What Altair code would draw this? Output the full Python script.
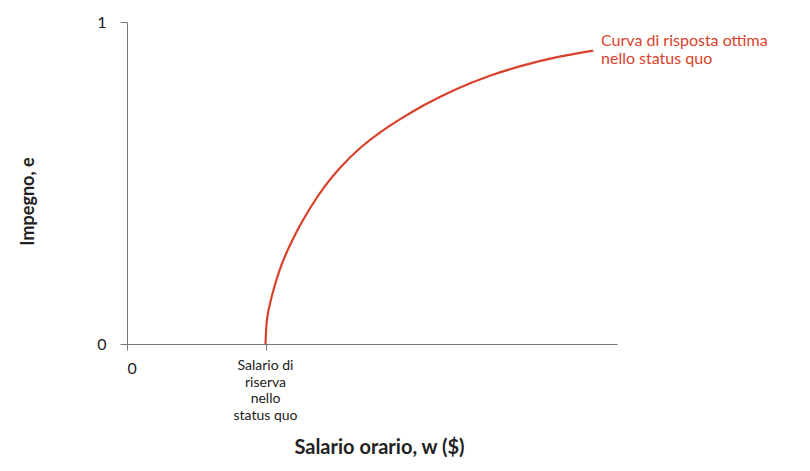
import altair as alt
import pandas as pd

# Best-response curve (hourly wage w, effort e)
wage = [13.85, 13.95, 14.37, 15.2, 16.2, 17.2, 18.37, 19.7, 21.37, 23.37, 25.37,
        26.87, 29.63, 32.97, 36.3, 39.63, 42.97, 46.63]
effort = [0.0, 0.080, 0.137, 0.230, 0.302, 0.364, 0.426, 0.489, 0.551, 0.613, 0.659,
          0.690, 0.742, 0.794, 0.835, 0.866, 0.892, 0.911]

reservation_wage = 13.85
reservation_label = "Salario di\nriserva\nnello\nstatus quo"

curve_label = "Curva di risposta ottima\nnello status quo"
curve_label_x = 47.4
curve_label_y = 0.94

RED = "#d9412b"
FONT = "Lato"

curve_df = pd.DataFrame({"w": wage, "e": effort})
res_df = pd.DataFrame({"w": [reservation_wage], "e": [0.0], "t": [reservation_label]})
lab_df = pd.DataFrame({"w": [curve_label_x], "e": [curve_label_y], "t": [curve_label]})

xscale = alt.Scale(domain=[0, 49], nice=False, zero=False)
yscale = alt.Scale(domain=[0, 1], nice=False)

xaxis = alt.Axis(
    values=[0, reservation_wage], labelExpr="datum.value == 0 ? '0' : ''",
    title="Salario orario, w ($)", grid=False,
    tickSize=6, labelPadding=10, labelFontSize=16, labelColor="#222",
    domainColor="#777", tickColor="#777",
    titleFontSize=20, titleFontWeight="bold", titleColor="#222",
    titleX=252, titleY=103, titleBaseline="middle", titleAlign="center",
)
yaxis = alt.Axis(
    values=[0, 1], format="d", title="Impegno, e", grid=False,
    tickSize=7, labelPadding=14, labelFontSize=16, labelColor="#222",
    domainColor="#777", tickColor="#777",
    titleFontSize=18, titleFontWeight="bold", titleColor="#222",
    titleX=-99, titleY=179, titleBaseline="middle", titleAlign="center", titleAngle=-90,
)

line = alt.Chart(curve_df).mark_line(color=RED, strokeWidth=2.2, interpolate="basis").encode(
    x=alt.X("w:Q", scale=xscale, axis=xaxis),
    y=alt.Y("e:Q", scale=yscale, axis=yaxis),
)

res_text = alt.Chart(res_df).mark_text(
    font=FONT, fontSize=14, color="#222", align="center", baseline="top",
    dy=15, lineBreak="\n", lineHeight=16.5,
).encode(x=alt.X("w:Q", scale=xscale), y=alt.Y("e:Q", scale=yscale), text="t:N")

curve_text = alt.Chart(lab_df).mark_text(
    font=FONT, fontSize=16, color=RED, align="left", baseline="middle",
    lineBreak="\n", lineHeight=18,
).encode(x=alt.X("w:Q", scale=xscale), y=alt.Y("e:Q", scale=yscale), text="t:N")

chart = alt.layer(line, res_text, curve_text).properties(
    width=490, height=322,
    autosize=alt.AutoSizeParams(type="none"),
    padding={"left": 119, "top": 14, "right": 185, "bottom": 118},
).configure_view(stroke=None).configure_axis(
    labelFont=FONT, titleFont=FONT
)

chart.save("out.html", embed_options={"renderer": "svg", "actions": False})
